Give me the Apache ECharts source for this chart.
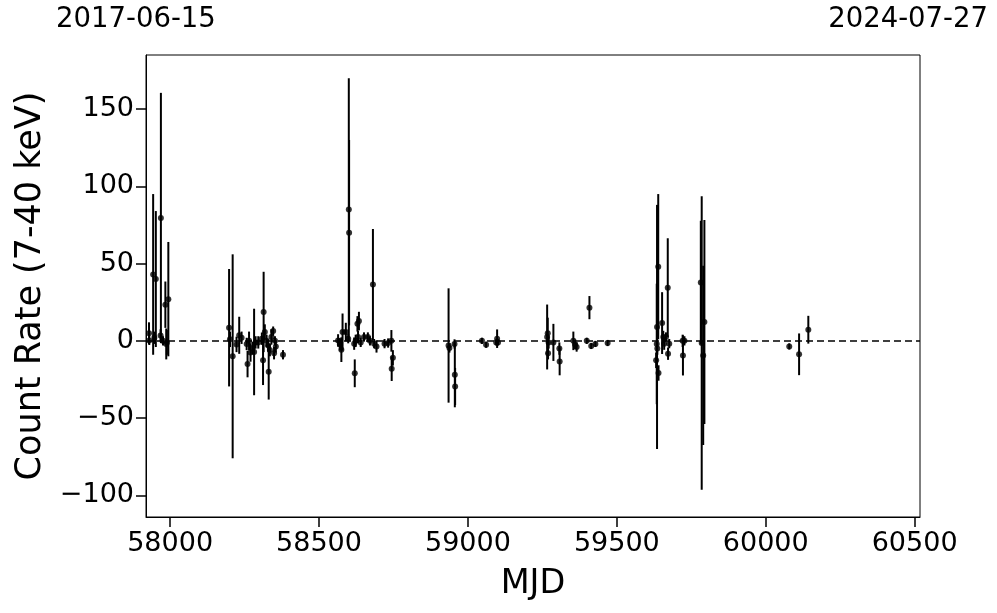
<!DOCTYPE html>
<html>
<head>
<meta charset="utf-8">
<script src="https://cdn.jsdelivr.net/npm/echarts@6/dist/echarts.min.js"></script>
<style>
html,body{margin:0;padding:0;background:#fff;}
#chart{width:997px;height:613px;}
</style>
</head>
<body>
<div id="chart"></div>
<script>
// ---- data ----
const mjd = [
  57929,57930,57943,57947,57952,57968,57969,57976,57984,57987,57989,57994,
  58198,58201,58210,58223,58232,58240,58257,58260,58265,58270,58277,58282,58287,58296,58308,58312,58314,58318,58324,58329,58331,58335,58340,58346,58349,58352,58355,58379,
  58564,58570,58575,58579,58590,58598,58600,58601,58618,58620,58623,58629,58631,58634,58640,58651,58664,58671,58681,58685,58693,58720,58732,58743,58744,58748,
  58935,58938,58955,58956,58957,59047,59061,59095,59098,59101,
  59266,59268,59269,59271,59287,59307,59308,59354,59360,59365,59399,59408,59414,59428,59469,
  59632,59634,59635,59636,59639,59640,59652,59656,59659,59665,59671,59672,59676,59721,59722,59727,59782,59785,59790,59794,
  60079,60112,60143
];
const rate = [
  5,0.3,43,2,40,3.5,79.5,0,23.4,-2,-1,27,
  8.5,1,-10,-2.3,3.6,2,-2,-15,0,-7.5,-4.6,-7.2,-1,-1,1.4,-12.6,18.7,5.7,0,-3,-20,-6,2.5,6.3,-8,0,-3.6,-9,
  0.3,-2.3,-5.7,5.7,5.7,1.4,85,70,-1.8,-21,0,11,2.5,12.8,-1,2.5,2.5,0,36.4,-1.8,-3.6,-1.8,-1.4,0,-18,-11,
  -3,-4.6,-2,-22,-29.5,0,-2.5,-1,1.4,-1,
  2.5,5,-8,-1,-1,-5,-13.3,0,-2.3,-4,0,21.5,-3.3,-2,-1.4,
  -12.6,-2,9,-5,48,-20.8,11.5,2.5,-1.8,2.5,34.4,-8.3,-1.8,0,-9.4,0,37.7,-1.4,-9.4,12.2,
  -3.6,-8.7,7.2
];
const err = [
  7,3,52,4,44,4,81,3,15,10,8,37,
  38,5,66,5,12,4,4,8.6,6,6,4,28,4,4,4,16,26,5,4,4,18,4,5,3,4,3,4,3,
  4,4,8,12,6,3,85,60,4,9,4,5,4,6,3,3,3,3,36,3,4,3,3,7,8,5,
  37,3,3,21,12,2,2,2,6,2,
  21,10,4,4,12,4,9,6,3,3,2,7.5,2,2,2,
  5,39,79,4,47,5,20,4,4,3,32,4,3,4,13,3,40,95,58,66,
  2,13.5,9
];
const xTicks = [58000, 58500, 59000, 59500, 60000, 60500];
const yTicks = [-100, -50, 0, 50, 100, 150];
const dateLabels = ['2017-06-15', '2024-07-27'];
const xRange = [57919, 60518];
const yRange = [-114, 185];

const font = 'DejaVu Sans';
const pts = mjd.map((x, i) => [x, rate[i]]);
const bars = mjd.map((x, i) => [x, rate[i] - err[i], rate[i] + err[i]]);

const chart = echarts.init(document.getElementById('chart'), null, {renderer: 'canvas'});
chart.setOption({
  animation: false,
  backgroundColor: '#ffffff',
  grid: {left: 146, right: 77, top: 55, bottom: 96, show: true, borderColor: '#000', borderWidth: 1, backgroundColor: 'transparent'},
  graphic: [
    {type: 'text', left: 56, top: 6, style: {text: dateLabels[0], font: '27.5px "DejaVu Sans"', fill: '#000'}},
    {type: 'text', right: 9, top: 6, style: {text: dateLabels[1], font: '27.5px "DejaVu Sans"', fill: '#000'}}
  ],
  xAxis: {
    type: 'value', min: xRange[0], max: xRange[1],
    name: 'MJD', nameLocation: 'middle', nameGap: 50,
    nameTextStyle: {fontFamily: font, fontSize: 33.5, color: '#000'},
    axisLine: {show: true, onZero: false, lineStyle: {color: '#000', width: 1}},
    axisTick: {show: true, length: 10, lineStyle: {color: '#000', width: 1.5}, customValues: xTicks},
    axisLabel: {fontFamily: font, fontSize: 27, color: '#000', margin: 13, customValues: xTicks,
      formatter: v => String(v)},
    splitLine: {show: false}
  },
  yAxis: {
    type: 'value', min: yRange[0], max: yRange[1],
    name: 'Count Rate (7-40 keV)', nameLocation: 'middle', nameGap: 98,
    nameTextStyle: {fontFamily: font, fontSize: 35, color: '#000'},
    axisLine: {show: true, onZero: false, lineStyle: {color: '#000', width: 1}},
    axisTick: {show: true, length: 10, lineStyle: {color: '#000', width: 1.5}, customValues: yTicks},
    axisLabel: {fontFamily: font, fontSize: 27, color: '#000', margin: 12,
      customValues: yTicks, formatter: v => (v < 0 ? '\u2212' + Math.abs(v) : String(v))},
    splitLine: {show: false}
  },
  series: [
    {
      type: 'custom',
      data: bars,
      clip: true,
      z: 2,
      renderItem: function (params, api) {
        const p1 = api.coord([api.value(0), api.value(1)]);
        const p2 = api.coord([api.value(0), api.value(2)]);
        return {type: 'line', shape: {x1: p1[0], y1: p1[1], x2: p2[0], y2: p2[1]},
          style: {stroke: '#000', lineWidth: 2}};
      }
    },
    {
      type: 'scatter',
      data: pts,
      symbol: 'circle',
      symbolSize: 6,
      itemStyle: {color: '#000'},
      z: 3,
      markLine: {
        silent: true,
        symbol: ['none', 'none'],
        label: {show: false},
        lineStyle: {color: '#000', width: 1.5, type: [7, 4]},
        data: [{yAxis: 0}]
      }
    }
  ]
});
</script>
</body>
</html>
